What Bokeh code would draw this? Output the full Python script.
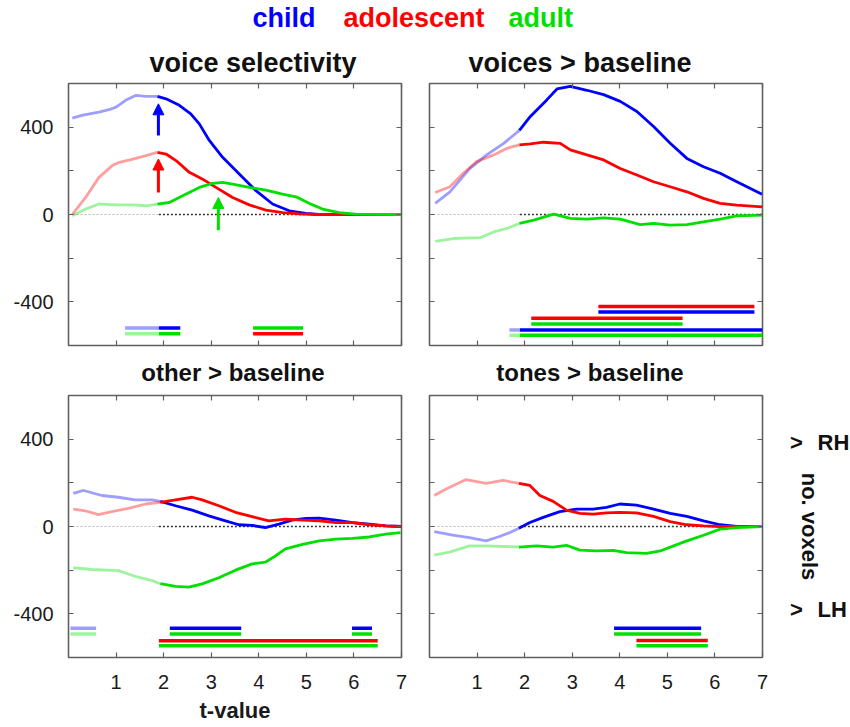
import math
from bokeh.plotting import figure
from bokeh.layouts import column, row
from bokeh.models import Range1d, FixedTicker, LinearAxis, Arrow, NormalHead
from bokeh.core.properties import value
from bokeh.embed import file_html
from bokeh.resources import INLINE

FONT = "Liberation Sans"

# ---------------- data ----------------
GROUPS = ["child", "adolescent", "adult"]
GROUP_COLORS = ["#0000ff", "#ff0000", "#00e000"]
THRESHOLD = 1.9  # t-value threshold: lighter lines below it
X_TICKS = [1, 2, 3, 4, 5, 6, 7]
Y_TICKS = [-400, 0, 400]
Y_MINOR = [-200, 200]
Y_TICK_LABELS = {-400: "-400", 0: "0", 400: "400"}
PANEL_TITLES = ["voice selectivity", "voices > baseline",
                "other > baseline", "tones > baseline"]
SIDE_TEXTS = [">", "RH", ">", "LH", "no. voxels"]
SIDE_LEVELS = [387, 387, -378, -378, 0]

# voice selectivity
vs_child_x = [0.08, 0.3, 0.64, 0.85, 1.0, 1.2, 1.42, 1.63, 1.87, 2.05, 2.33, 2.57, 2.75,
              2.96, 3.24, 3.59, 3.94, 4.29, 4.64, 4.99, 5.27, 6.0, 7.0]
vs_child_y = [441, 455, 469, 480, 492, 523, 546, 541, 541, 530, 500, 461, 415,
              339, 262, 185, 109, 48, 17, 5, 0, 0, 0]
vs_adol_x = [0.08, 0.36, 0.64, 0.92, 1.07, 1.35, 1.63, 1.87, 2.05, 2.26, 2.54, 2.82,
             3.1, 3.45, 3.8, 4.15, 4.5, 4.85, 5.2, 6.0, 7.0]
vs_adol_y = [0, 78, 170, 224, 239, 254, 270, 285, 277, 247, 193, 162,
             124, 78, 44, 20, 9, 3, 0, 0, 0]
vs_adult_x = [0.08, 0.36, 0.64, 1.0, 1.35, 1.63, 1.87, 2.12, 2.4, 2.75, 3.03, 3.24,
              3.45, 3.8, 4.15, 4.5, 4.78, 5.06, 5.34, 5.69, 6.04, 7.0]
vs_adult_y = [-6, 25, 48, 44, 44, 40, 48, 55, 86, 124, 143, 147,
              139, 124, 112, 93, 81, 51, 25, 9, 2, 0]

# voices > baseline
vb_child_x = [0.12, 0.43, 0.85, 1.2, 1.56, 1.89, 2.12, 2.47, 2.68, 2.96, 3.31, 3.66,
              4.01, 4.36, 4.71, 5.06, 5.41, 5.76, 6.11, 6.46, 6.99]
vb_child_y = [51, 104, 211, 273, 326, 385, 449, 526, 575, 587, 569, 549,
              518, 472, 403, 326, 257, 219, 189, 150, 93]
vb_adol_x = [0.12, 0.43, 0.71, 0.99, 1.35, 1.63, 1.89, 2.12, 2.4, 2.75, 2.96, 3.31,
             3.66, 4.01, 4.36, 4.71, 5.06, 5.41, 5.76, 6.11, 6.46, 6.99]
vb_adol_y = [101, 127, 189, 242, 273, 303, 319, 323, 331, 326, 296, 273,
             250, 211, 181, 150, 127, 104, 74, 51, 43, 35]
vb_adult_x = [0.12, 0.5, 1.07, 1.35, 1.63, 1.89, 2.19, 2.61, 2.96, 3.31, 3.66, 4.01,
              4.43, 4.71, 5.06, 5.41, 5.76, 6.11, 6.46, 6.99]
vb_adult_y = [-123, -110, -106, -80, -64, -41, -26, 2, -18, -21, -15, -21,
              -46, -41, -49, -46, -34, -21, -6, -3]

# other > baseline
ob_child_x = [0.1, 0.32, 0.7, 1.05, 1.4, 1.76, 1.93, 2.25, 2.6, 2.95, 3.3, 3.58,
              3.86, 4.14, 4.42, 4.7, 4.99, 5.27, 5.62, 5.97, 6.32, 6.67, 7.0]
ob_child_y = [152, 165, 142, 134, 122, 122, 115, 95, 75, 49, 26, 8,
              5, -5, 11, 29, 37, 38, 29, 18, 11, 3, 0]
ob_adol_x = [0.1, 0.35, 0.63, 0.91, 1.26, 1.62, 1.93, 2.25, 2.6, 2.81, 3.16, 3.51,
             3.86, 4.21, 4.56, 4.92, 5.27, 5.62, 5.97, 6.32, 6.67, 7.0]
ob_adol_y = [80, 72, 54, 68, 83, 103, 111, 122, 134, 122, 95, 65,
             45, 26, 34, 29, 26, 18, 18, 8, 3, 0]
ob_adult_x = [0.1, 0.49, 1.05, 1.4, 1.76, 1.93, 2.25, 2.53, 2.81, 3.16, 3.51, 3.86,
              4.14, 4.35, 4.56, 4.92, 5.27, 5.62, 5.97, 6.32, 6.67, 6.98]
ob_adult_y = [-189, -197, -202, -228, -248, -262, -274, -278, -263, -235, -200, -171,
              -163, -135, -102, -82, -66, -58, -54, -48, -35, -28]

# tones > baseline
tb_child_x = [0.1, 0.49, 0.84, 1.19, 1.47, 1.69, 1.88, 2.11, 2.39, 2.74, 3.09, 3.44,
              3.72, 4.0, 4.35, 4.71, 5.06, 5.41, 5.76, 6.11, 6.46, 7.0]
tb_child_y = [-23, -40, -51, -66, -46, -28, -8, 18, 42, 68, 80, 80,
              88, 103, 98, 80, 60, 46, 26, 8, 0, 0]
tb_adol_x = [0.1, 0.35, 0.77, 1.19, 1.54, 1.88, 2.11, 2.32, 2.6, 2.88, 3.16, 3.44,
             3.72, 4.0, 4.35, 4.71, 5.06, 5.41, 5.76, 6.11, 7.0]
tb_adol_y = [142, 172, 215, 198, 211, 198, 188, 142, 115, 75, 60, 57,
             62, 65, 62, 46, 22, 8, 3, 0, 0]
tb_adult_x = [0.1, 0.42, 0.84, 1.19, 1.88, 2.25, 2.6, 2.88, 3.16, 3.51, 3.86, 4.14,
              4.56, 4.85, 5.13, 5.41, 5.76, 6.11, 6.46, 6.99]
tb_adult_y = [-131, -117, -89, -89, -94, -89, -94, -86, -108, -112, -109, -120,
              -123, -112, -89, -66, -40, -12, -5, 0]

# significance bars: group, level (no. voxels axis), t start, t end
vs_bar_group = ["child", "adult", "adult", "adolescent"]
vs_bar_level = [-520, -546, -520, -546]
vs_bar_start = [1.19, 1.19, 3.88, 3.88]
vs_bar_end = [2.35, 2.35, 4.93, 4.93]

vb_bar_group = ["adolescent", "child", "adolescent", "adult", "child", "adult"]
vb_bar_level = [-421, -447, -475, -501, -529, -553]
vb_bar_start = [3.55, 3.55, 2.14, 2.14, 1.68, 1.68]
vb_bar_end = [6.83, 6.83, 5.32, 5.32, 7.0, 7.0]

ob_bar_group = ["child", "child", "child", "adult", "adult", "adult", "adolescent", "adult"]
ob_bar_level = [-466, -466, -466, -492, -492, -492, -523, -546]
ob_bar_start = [0.04, 2.13, 5.96, 0.04, 2.13, 5.96, 1.9, 1.9]
ob_bar_end = [0.58, 3.63, 6.38, 0.58, 3.63, 6.38, 6.5, 6.5]

tb_bar_group = ["child", "adult", "adolescent", "adult"]
tb_bar_level = [-466, -492, -522, -546]
tb_bar_start = [3.88, 3.88, 4.35, 4.35]
tb_bar_end = [5.71, 5.71, 5.85, 5.85]

# arrows in the voice selectivity panel
arrow_group = ["child", "adolescent", "adult"]
arrow_t = [1.89, 1.89, 3.15]
arrow_from = [362, 101, -72]
arrow_to = [507, 254, 78]

PANELS = [
    dict(series=[(vs_child_x, vs_child_y), (vs_adol_x, vs_adol_y), (vs_adult_x, vs_adult_y)],
         bars=(vs_bar_group, vs_bar_level, vs_bar_start, vs_bar_end)),
    dict(series=[(vb_child_x, vb_child_y), (vb_adol_x, vb_adol_y), (vb_adult_x, vb_adult_y)],
         bars=(vb_bar_group, vb_bar_level, vb_bar_start, vb_bar_end)),
    dict(series=[(ob_child_x, ob_child_y), (ob_adol_x, ob_adol_y), (ob_adult_x, ob_adult_y)],
         bars=(ob_bar_group, ob_bar_level, ob_bar_start, ob_bar_end)),
    dict(series=[(tb_child_x, tb_child_y), (tb_adol_x, tb_adol_y), (tb_adult_x, tb_adult_y)],
         bars=(tb_bar_group, tb_bar_level, tb_bar_start, tb_bar_end)),
]

# ---------------- layout / style ----------------
PAGE_W = 850
FRAME_W, FRAME_H = 333, 262
COL_BORDERS = [(68, 8), (20, 8)]
ROW_BORDERS = [(4, 7), (4, 70)]
SIDE_W = 80
HEADER_H = 79          # legend + top-row titles
STRIP_H = 39           # bottom-row titles
LEGEND_X = [252, 343, 508]
LEGEND_Y = HEADER_H - 17.5       # vertical centre of the caps, from the bottom
TITLE_Y = [HEADER_H - 62.6, STRIP_H - 19.5]
TITLE_SIZE = ["27px", "24px"]
TITLE_OFFSETS = [18, -16, -2, -6]
SIDE_X = [26, 47, 26, 47, 39]
SIDE_ALIGN = ["center", "left", "center", "left", "center"]
SIDE_ANGLE = [0, 0, 0, 0, -math.pi / 2]
FRAME_COLOR = "#606060"
TEXT_COLOR = "#111111"
LIGHT_ALPHA = 0.38
LINE_W = 2.8
BAR_W = 3.5
color_of = dict(zip(GROUPS, GROUP_COLORS))

col_left_edge = [0, COL_BORDERS[0][0] + FRAME_W + COL_BORDERS[0][1]]
frame_center = [col_left_edge[c] + COL_BORDERS[c][0] + FRAME_W / 2 for c in range(2)]


def style_axis(ax, ticker, labels):
    ax.ticker = ticker
    ax.axis_line_color = None
    ax.major_tick_in = 5
    ax.major_tick_out = 0
    ax.minor_tick_in = 5
    ax.minor_tick_out = 0
    ax.major_tick_line_color = FRAME_COLOR
    ax.minor_tick_line_color = FRAME_COLOR
    ax.major_tick_line_width = 1.2
    ax.minor_tick_line_width = 1.2
    if labels:
        ax.major_label_text_font = FONT
        ax.major_label_text_font_size = "20px"
        ax.major_label_text_color = "#1a1a1a"
    else:
        ax.major_label_text_font_size = "1px"
        ax.major_label_text_color = None
        ax.major_label_standoff = 0


def split_index(xs):
    best = 0
    for i, x in enumerate(xs):
        if abs(x - THRESHOLD) < abs(xs[best] - THRESHOLD):
            best = i
    return best


def blank_figure(w, h, xr, yr, **kw):
    f = figure(width=w, height=h, x_range=xr, y_range=yr, title=None,
               output_backend="svg", toolbar_location=None,
               x_axis_location=None, y_axis_location=None, **kw)
    f.xgrid.grid_line_color = None
    f.ygrid.grid_line_color = None
    f.outline_line_color = None
    return f


def title_strip(height, r):
    f = blank_figure(PAGE_W, height, Range1d(0, PAGE_W), Range1d(0, height), min_border=0)
    idxs = [2 * r, 2 * r + 1]
    xs = [frame_center[i % 2] + TITLE_OFFSETS[i] for i in idxs]
    f.text(x=xs, y=[TITLE_Y[r]] * 2, text=[PANEL_TITLES[i] for i in idxs],
           text_align="center", text_baseline="middle", text_font=value(FONT),
           text_font_size=TITLE_SIZE[r], text_font_style="bold", text_color=TEXT_COLOR)
    return f


def make_panel(i):
    r, c = divmod(i, 2)
    bl, br = COL_BORDERS[c]
    if r == 0 and c == 1:
        br += SIDE_W
    bt, bb = ROW_BORDERS[r]
    p = figure(width=bl + FRAME_W + br, height=bt + FRAME_H + bb, title=None,
               x_range=Range1d(0, 7), y_range=Range1d(-600, 600),
               output_backend="svg", toolbar_location=None,
               min_border_left=bl, min_border_right=br,
               min_border_top=bt, min_border_bottom=bb)
    p.xgrid.grid_line_color = None
    p.ygrid.grid_line_color = None
    p.outline_line_color = FRAME_COLOR
    p.outline_line_width = 1.6
    p.background_fill_color = "white"
    p.border_fill_color = "white"

    bottom = p.below[0]
    left = p.left[0]
    style_axis(bottom, FixedTicker(ticks=X_TICKS), r == 1)
    style_axis(left, FixedTicker(ticks=Y_TICKS, minor_ticks=Y_MINOR), c == 0)
    if r == 1:
        bottom.major_label_standoff = 17
    if c == 0:
        left.major_label_standoff = 15
        left.major_label_overrides = Y_TICK_LABELS
    top = LinearAxis()
    style_axis(top, FixedTicker(ticks=X_TICKS), False)
    p.add_layout(top, "above")
    right = LinearAxis()
    style_axis(right, FixedTicker(ticks=Y_TICKS, minor_ticks=Y_MINOR), False)
    p.add_layout(right, "right")
    if i == 2:
        bottom.axis_label = "t-value"
        bottom.axis_label_text_font = FONT
        bottom.axis_label_text_font_size = "22px"
        bottom.axis_label_text_font_style = "bold"
        bottom.axis_label_text_color = "#1a1a1a"
        bottom.axis_label_standoff = 6

    # zero line
    p.line([0, THRESHOLD], [0, 0], line_color="#bbbbbb", line_dash="2 2", line_width=1.2)
    p.line([THRESHOLD, 7], [0, 0], line_color="#333333", line_dash="2 2", line_width=1.3)

    # curves
    panel = PANELS[i]
    for (xs, ys), col in zip(panel["series"], GROUP_COLORS):
        k = split_index(xs)
        p.line(xs[:k + 1], ys[:k + 1], line_color=col, line_alpha=LIGHT_ALPHA,
               line_width=LINE_W, line_join="round")
        p.line(xs[k:], ys[k:], line_color=col, line_width=LINE_W, line_join="round")

    # significance bars
    g, lev, s, e = panel["bars"]
    lx0, lx1, ly, lc, dx0, dx1, dy, dc = [], [], [], [], [], [], [], []
    for gg, yy, x0, x1 in zip(g, lev, s, e):
        col = color_of[gg]
        if x0 < THRESHOLD:
            lx0.append(x0); lx1.append(min(x1, THRESHOLD)); ly.append(yy); lc.append(col)
        if x1 > THRESHOLD:
            dx0.append(max(x0, THRESHOLD)); dx1.append(x1); dy.append(yy); dc.append(col)
    if lx0:
        p.segment(x0=lx0, y0=ly, x1=lx1, y1=ly, line_color=lc, line_alpha=LIGHT_ALPHA,
                  line_width=BAR_W)
    if dx0:
        p.segment(x0=dx0, y0=dy, x1=dx1, y1=dy, line_color=dc, line_width=BAR_W)

    if i == 0:
        for gg, t, y0, y1 in zip(arrow_group, arrow_t, arrow_from, arrow_to):
            col = color_of[gg]
            p.add_layout(Arrow(end=NormalHead(size=11, fill_color=col, line_color=col,
                                              line_width=1),
                               x_start=t, y_start=y0, x_end=t, y_end=y1,
                               line_color=col, line_width=3))
    return p


panels = [make_panel(i) for i in range(4)]

# side column with hemisphere labels, aligned to the bottom-right panel frame
bt, bb = ROW_BORDERS[1]
side = blank_figure(SIDE_W, bt + FRAME_H + bb, Range1d(0, SIDE_W), Range1d(-600, 600),
                    min_border_left=0, min_border_right=0, min_border_top=bt,
                    min_border_bottom=bb)
for txt, lvl, sx, al, ang in zip(SIDE_TEXTS, SIDE_LEVELS, SIDE_X, SIDE_ALIGN, SIDE_ANGLE):
    side.text(x=[sx], y=[lvl], text=[txt], angle=ang, text_align=al,
              text_baseline="middle", text_font=value(FONT), text_font_size="22px",
              text_font_style="bold", text_color=TEXT_COLOR)

# header: group names + titles of the top panels
header = title_strip(HEADER_H, 0)
header.text(x=LEGEND_X, y=[LEGEND_Y] * len(GROUPS), text=GROUPS,
            text_color=GROUP_COLORS, text_font=value(FONT), text_font_size="27px",
            text_font_style="bold", text_baseline="middle", text_align="left")

strip = title_strip(STRIP_H, 1)

layout = column(header, row(panels[0], panels[1]), strip,
                row(panels[2], panels[3], side))

with open("out.html", "w") as f:
    f.write(file_html(layout, INLINE))
